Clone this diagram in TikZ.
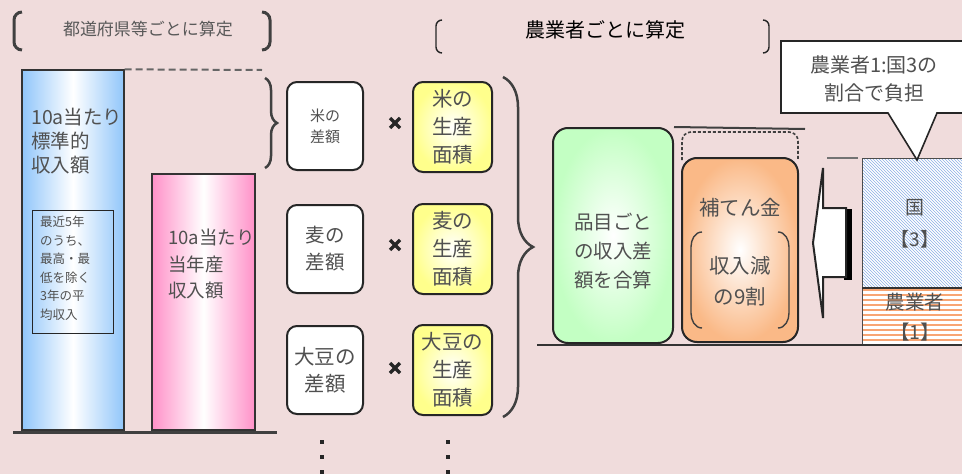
\documentclass[tikz,border=0pt]{standalone}
\usepackage{fontspec}
\setmainfont{Noto Sans CJK JP}
\usetikzlibrary{decorations.pathreplacing,patterns,calc}
\definecolor{bg}{RGB}{240,220,220}
\definecolor{barblue}{RGB}{145,198,250}
\definecolor{barpink}{RGB}{255,145,200}
\definecolor{boxyellow}{RGB}{255,255,140}
\definecolor{boxgreen}{RGB}{195,255,195}
\definecolor{boxorange}{RGB}{250,185,135}
\definecolor{txt}{RGB}{80,80,80}
\definecolor{hatch}{RGB}{140,175,230}
\definecolor{stripe}{RGB}{248,165,115}
\begin{document}
\begin{tikzpicture}[x=1pt,y=-1pt,
  bar/.style={draw=black!80, line width=1.3},
  lbl/.style={text=txt, inner sep=0pt},
  diffbox/.style={draw=black!85, line width=2, rounded corners=10, fill=white,
    minimum width=76, minimum height=88, text=txt, align=center, inner sep=0pt},
  areabox/.style={draw=black!85, line width=2, rounded corners=10, inner color=white,
    outer color=boxyellow, minimum width=79, minimum height=90, align=center, text=txt,
    inner sep=0pt, font=\fontsize{20.5}{28}\selectfont},
  brc/.style={decorate, line width=2.5, draw=black!75},
  timesmark/.style={line width=3.2, draw=black!85},
  thickbr/.style={line width=3, draw=black!75},
  thinbr/.style={line width=1.4, draw=black!85},
]
\fill[bg] (0,0) rectangle (962,474);
\useasboundingbox (0,0) rectangle (962,474);

% top-left bracket label
\draw[thickbr] (22,12) to[out=180,in=90] (14,20) -- (14,42) to[out=-90,in=180] (22,50);
\draw[thickbr] (262,12) to[out=0,in=90] (270,20) -- (270,42) to[out=-90,in=0] (262,50);
\node[lbl, font=\fontsize{17}{20}\selectfont, text=black!65] (ttl1) at (148,29) {都道府県等ごとに算定};

% top-middle bracket label
\draw[thinbr] (442,20) to[out=180,in=90] (436,26) -- (436,47) to[out=-90,in=180] (442,53);
\draw[thinbr] (763,20) to[out=0,in=90] (769,26) -- (769,47) to[out=-90,in=0] (763,53);
\node[lbl, font=\fontsize{20}{22}\selectfont, text=black] (ttl2) at (605,30) {農業者ごとに算定};

% standard income bar
\node[bar, minimum width=102, minimum height=360, left color=barblue, right color=barblue, middle color=white, inner sep=0pt] (std) at (73,250) {};
\node[lbl, anchor=north west, align=left, font=\fontsize{19.5}{24}\selectfont] (stdtxt) at (31,108) {10a当たり\\標準的\\収入額};
\node[draw=black!85, line width=1, minimum width=81, minimum height=123, inner sep=0pt] (avg) at (72.5,271.5) {};
\node[lbl, anchor=north west, align=left, font=\fontsize{12.5}{18.5}\selectfont] (avgtxt) at (40,216) {最近5年\\のうち、\\最高・最\\低を除く\\3年の平\\均収入};

% current income bar
\node[bar, minimum width=103, minimum height=256, left color=barpink, right color=barpink, middle color=white, inner sep=0pt] (cur) at (203.5,302) {};
\node[lbl, anchor=north west, align=left, font=\fontsize{18.5}{26.5}\selectfont] (curtxt) at (168,229) {10a当たり\\当年産\\収入額};

\coordinate (b1) at (13,432);
\coordinate (b2) at (277,432);
\draw[line width=3, black!75] (b1) -- (b2);
\coordinate (dashend) at (262,70);
\draw[line width=2, black!60, dash pattern=on 7 off 4] (std.north east) -- (dashend);

% small brace
\coordinate (sb1) at (265,78);
\coordinate (sb2) at (265,168);
\draw[brc, decoration={brace, amplitude=12}] (sb1) -- (sb2);

% difference boxes
\node[diffbox, font=\fontsize{15}{21}\selectfont] (rice) at (325,126) {米の\\差額};
\node[diffbox, font=\fontsize{19.5}{27}\selectfont] (wheat) at (325,249) {麦の\\差額};
\node[diffbox, font=\fontsize{20.5}{27}\selectfont] (soy) at (325,370) {大豆の\\差額};

% area boxes
\node[areabox] (ricea) at (452.5,127) {米の\\生産\\面積};
\node[areabox] (wheata) at (452.5,249) {麦の\\生産\\面積};
\node[areabox] (soya) at (452.5,370) {大豆の\\生産\\面積};

% multiplication marks
\foreach \yy/\nm in {123/m1,245/m2,368/m3}{
  \coordinate (\nm) at (395,\yy);
  \draw[timesmark] ($(\nm)+(-5,-5)$) -- ($(\nm)+(5,5)$);
  \draw[timesmark] ($(\nm)+(-5,5)$) -- ($(\nm)+(5,-5)$);
}

% continuation dots
\foreach \xx in {322,448}{
  \foreach \yy in {442,457,472}{
    \fill[black!85] (\xx-2.2,\yy-2.2) rectangle (\xx+2.2,\yy+2.2);
  }
}

% big brace
\coordinate (bb1) at (503,77);
\coordinate (bb2) at (503,417);
\draw[brc, decoration={brace, amplitude=30}] (bb1) -- (bb2);

% sum box
\node[draw=black!85, line width=2, rounded corners=15, inner color=white, outer color=boxgreen, minimum width=120, minimum height=215, inner sep=0pt] (sum) at (613,235.5) {};
\node[lbl, align=center, font=\fontsize{19.5}{29}\selectfont] (sumtxt) at (613,251) {品目ごと\\の収入差\\額を合算};

% compensation box
\node[draw=black!85, line width=2, rounded corners=15, inner color=white, outer color=boxorange, minimum width=116, minimum height=184, inner sep=0pt] (comp) at (740,250) {};
\node[lbl, font=\fontsize{20.5}{22}\selectfont] (comptxt) at (740,208) {補てん金};
\node[lbl, align=center, font=\fontsize{20.5}{31}\selectfont] (comptxt2) at (740,281) {収入減\\の9割};
\draw[line width=1.4, black!75] (702,232) to[out=180,in=90] (691,247) -- (691,313) to[out=-90,in=180] (702,328);
\draw[line width=1.4, black!75] (778,232) to[out=0,in=90] (789,247) -- (789,313) to[out=-90,in=0] (778,328);

% top line and dashed outline above comp box
\coordinate (tl2) at (805,129);
\draw[line width=2, black!75] (sum.north east) -- (tl2);
\coordinate (d1) at (682,160);
\coordinate (d4) at (798,160);
\draw[line width=1.6, black!75, dash pattern=on 3 off 2, rounded corners=9] (d1) -- (682,132) -- (798,132) -- (d4);

% base line right
\coordinate (r1) at (537,345);
\coordinate (r2) at (962,345);
\draw[line width=2.5, black!80] (r1) -- (r2);

% share box: country (hatched) and farmer (striped)
\fill[white] (862,158) rectangle (962,288);
\fill[pattern=north west lines, pattern color=hatch] (862,158) rectangle (962,288);
\fill[white] (862,288) rectangle (962,344);
\foreach \yy in {290,295,...,342}{
  \draw[line width=2.8, stripe] (862,\yy) -- (962,\yy);
}
\draw[line width=1, black!70] (962,158) -- (862,158) -- (862,344);
\draw[line width=1.5, black!80] (862,288) -- (962,288);
\node[lbl, align=center, font=\fontsize{19}{32}\selectfont] (kuni) at (915,224) {国\\【3】};
\node[lbl, align=center, font=\fontsize{19.5}{30}\selectfont] (farmer) at (915,317) {農業者\\【1】};
\coordinate (sl1) at (827,158);
\coordinate (sl2) at (858,158);
\draw[line width=2, black!55] (sl1) -- (sl2);

% block arrow pointing left
\fill[black] (844,209) rectangle (852,280);
\draw[line width=2, black!85, fill=white] (846,208) -- (823,208) -- (823,168) -- (813,243) -- (823,318) -- (823,277) -- (846,277) -- cycle;

% speech callout
\coordinate (tip) at (917,160);
\draw[line width=1.6, black!85, fill=white] (781,41) -- (966,41) -- (966,113) -- (937,113) -- (tip) -- (888,113) -- (781,113) -- cycle;
\node[lbl, align=center, font=\fontsize{20}{28}\selectfont] (note) at (874,79) {農業者1:国3の\\割合で負担};
\end{tikzpicture}
\end{document}
